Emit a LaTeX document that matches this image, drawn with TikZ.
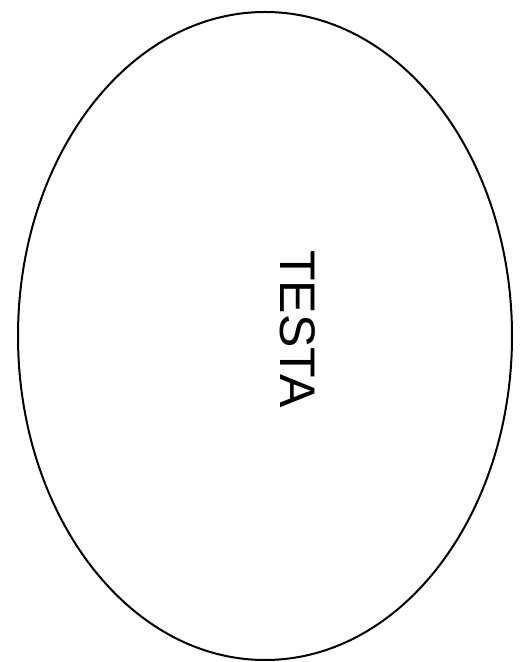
\documentclass[tikz,border=0pt]{standalone}
\usepackage{fontspec}
\setmainfont{Liberation Sans}
\usetikzlibrary{shapes.geometric, positioning}
\tikzstyle{oval} = [ellipse, minimum width=494pt, minimum height=648pt, inner sep=0pt, draw=black, line width=2pt]
\tikzstyle{word} = [rotate=-90, inner sep=0pt, font=\fontsize{50}{50}\selectfont]

\begin{document}
\begin{tikzpicture}[x=1pt, y=1pt]

    \useasboundingbox (0,0) rectangle (528,662);
    \node (testa) [oval] at (265,326) {};
    \node (label) [word] at (298,333) {TESTA};

\end{tikzpicture}
\end{document}
